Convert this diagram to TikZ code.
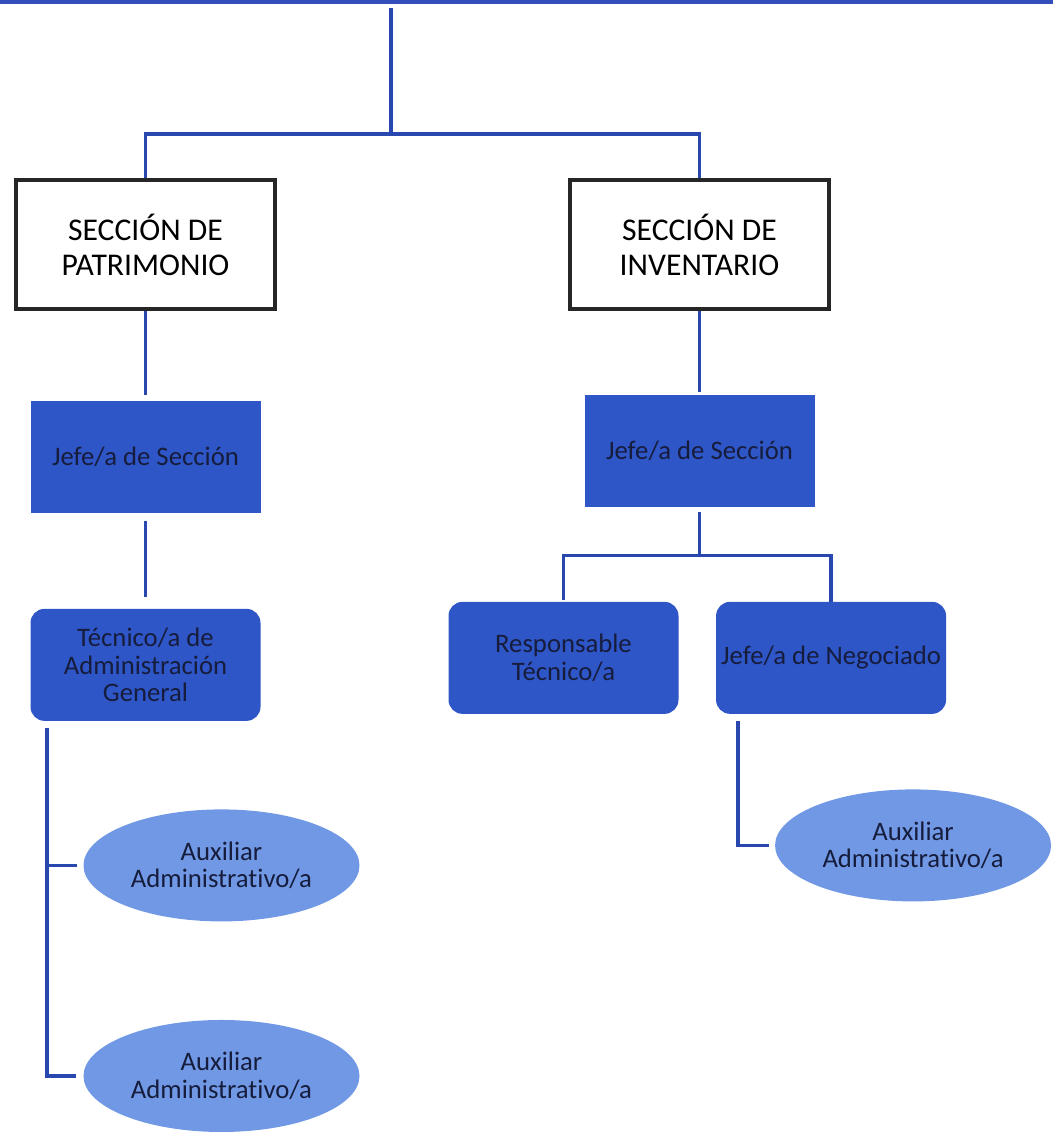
\documentclass[tikz,border=0pt]{standalone}
\usepackage{fontspec}
\setmainfont{Carlito}[Ligatures=NoCommon]
\usepackage{xcolor}
\usepackage{tikz}
\usetikzlibrary{positioning,shapes.geometric}
\definecolor{orgline}{RGB}{40,72,175}
\definecolor{orgbar}{RGB}{52,78,188}
\definecolor{orgfill}{RGB}{47,86,198}
\definecolor{auxfill}{RGB}{112,152,228}
\definecolor{orgtext}{RGB}{22,28,60}

\begin{document}
\begin{tikzpicture}[
        section/.style={rectangle, draw=black!85, line width=0.1cm, fill=white, align=center, minimum width=6.475cm, minimum height=3.225cm, font=\fontsize{22.5}{25}\selectfont},
        post/.style={rectangle, fill=orgfill, text=orgtext, align=center, inner sep=0.05cm, minimum width=5.75cm, minimum height=2.8cm, font=\fontsize{19}{19.5}\selectfont},
        postr/.style={post, rounded corners=0.35cm},
        aux/.style={ellipse, fill=auxfill, text=orgtext, align=center, inner sep=0pt, minimum width=6.9cm, minimum height=2.8cm, font=\fontsize{19}{19.5}\selectfont},
        link/.style={draw=orgline, line width=0.09cm},
        bar/.style={draw=orgbar, line width=0.12cm}
    ]
    \useasboundingbox (0,0) rectangle (26.325,-28.375);

    % Header sections
    \node[section] (secpat) at (3.6375,-6.1125) {SECCIÓN DE\\PATRIMONIO};
    \node[section, right=7.275cm of secpat] (secinv) {SECCIÓN DE\\INVENTARIO};

    % Patrimonio column
    \node[post, below=2.25cm of secpat] (jefepat) {Jefe/a de Sección};
    \node[postr, below=2.375cm of jefepat] (tecpat) {Técnico/a de\\Administración\\General};
    \node[aux, below=2.2cm of tecpat, xshift=1.9cm] (auxpat1) {Auxiliar\\Administrativo/a};
    \node[aux, below=2.45cm of auxpat1] (auxpat2) {Auxiliar\\Administrativo/a};

    % Inventario column
    \node[post, below=2.1cm of secinv] (jefeinv) {Jefe/a de Sección};
    \node[postr, below=2.35cm of jefeinv, xshift=-3.4cm] (resp) {Responsable\\Técnico/a};
    \node[postr, right=0.925cm of resp] (nego) {Jefe/a de Negociado};
    \node[aux, below=1.875cm of nego, xshift=2.05cm] (auxinv) {Auxiliar\\Administrativo/a};

    % Top bar and trunk
    \coordinate (barl) at (0,-0.05);
    \coordinate (barr) at (26.325,-0.05);
    \coordinate (top) at (9.775,-0.2);
    \draw[bar] (barl) -- (barr);
    \draw[link] (top) -- ++(0,-3.15) coordinate (bus);
    \draw[link] (secpat.north) |- (bus) -| (secinv.north);

    % Links - Patrimonio
    \draw[link, shorten >=0.15cm] (secpat.south) -- (jefepat.north);
    \draw[link, shorten <=0.18cm, shorten >=0.3cm] (jefepat.south) -- (tecpat.north);
    \draw[link, shorten >=0.15cm] (tecpat.south west) ++(0.425,-0.175) coordinate (stempat) |- (auxpat1.west);
    \draw[link, shorten >=0.18cm] (stempat) |- (auxpat2.west);

    % Links - Inventario
    \draw[link, shorten >=0.08cm] (secinv.south) -- (jefeinv.north);
    \draw[link, shorten <=0.12cm] (jefeinv.south) -- ++(0,-1.2) coordinate (fork);
    \draw[link, shorten <=0.03cm] (resp.north) |- (fork) -| (nego.north);
    \draw[link, shorten >=0.15cm] (nego.south west) ++(0.55,-0.175) coordinate (steminv) |- (auxinv.west);

\end{tikzpicture}
\end{document}
